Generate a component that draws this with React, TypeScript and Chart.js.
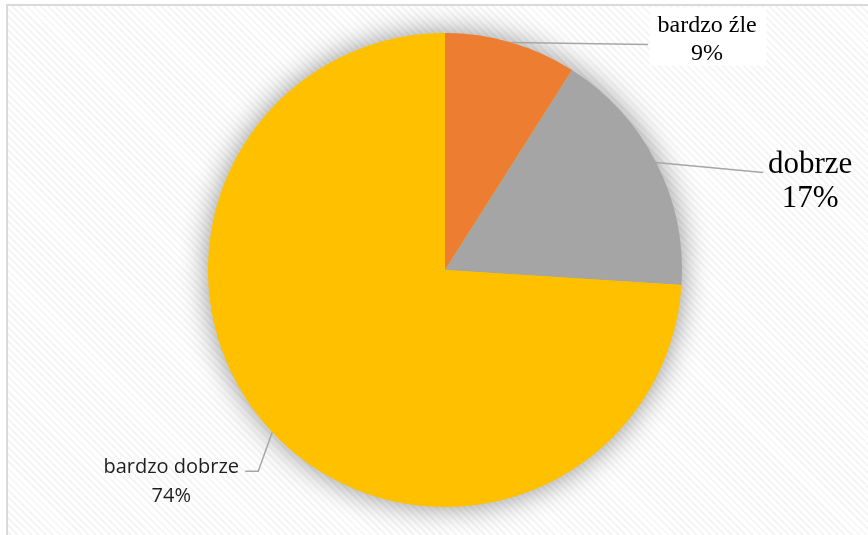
import React, { useEffect, useRef } from "react";
import { Chart, registerables } from "chart.js";

Chart.register(...registerables);

const categories = ["bardzo źle", "dobrze", "bardzo dobrze"];
const values = [9, 17, 74];
const colors = ["#ED7D31", "#A5A5A5", "#FFC000"];

// label styling / leader-line offsets (relative to arc mid-point on the rim)
const labelStyles = [
  { font: '24px "Liberation Serif"', color: "#000", path: [[137, 2]], textDx: 196, lineDy: [-10, 18], box: [139, -35, 116, 58] },
  { font: '31px "Liberation Serif"', color: "#000", path: [[107, 10]], textDx: 154, lineDy: [11, 45], box: null },
  { font: '20px "Open Sans"', color: "#1e1e1e", path: [[-14, 39], [-27, 39]], textDx: -101, lineDy: [41, 70], box: null },
];

const shadowPlugin = {
  id: "pieShadow",
  beforeDatasetsDraw(chart: any) {
    const meta = chart.getDatasetMeta(0);
    const a = meta.data[0];
    if (!a) return;
    const { x, y, outerRadius } = a.getProps(["x", "y", "outerRadius"], true);
    const ctx = chart.ctx;
    ctx.save();
    ctx.shadowColor = "rgba(0,0,0,0.45)";
    ctx.shadowBlur = 30;
    ctx.fillStyle = "#FFC000";
    ctx.beginPath();
    ctx.arc(x, y, outerRadius - 1, 0, Math.PI * 2);
    ctx.fill();
    ctx.restore();
  },
};

const labelPlugin = {
  id: "pieLabels",
  afterDatasetsDraw(chart: any) {
    const meta = chart.getDatasetMeta(0);
    const ctx = chart.ctx;
    const data = chart.data.datasets[0].data as number[];
    const total = data.reduce((s, v) => s + v, 0);
    meta.data.forEach((arc: any, i: number) => {
      const st = labelStyles[i];
      const { x, y, startAngle, endAngle, outerRadius } = arc.getProps(
        ["x", "y", "startAngle", "endAngle", "outerRadius"],
        true
      );
      const mid = (startAngle + endAngle) / 2;
      const sx = x + outerRadius * Math.cos(mid);
      const sy = y + outerRadius * Math.sin(mid);
      ctx.save();
      if (st.box) {
        ctx.fillStyle = "#ffffff";
        ctx.fillRect(sx + st.box[0], sy + st.box[1], st.box[2], st.box[3]);
      }
      ctx.strokeStyle = "#A6A6A6";
      ctx.lineWidth = 1.5;
      ctx.beginPath();
      ctx.moveTo(sx, sy);
      st.path.forEach((p) => ctx.lineTo(sx + p[0], sy + p[1]));
      ctx.stroke();
      ctx.fillStyle = st.color;
      ctx.font = st.font;
      ctx.textAlign = "center";
      ctx.textBaseline = "alphabetic";
      const pct = Math.round((data[i] / total) * 100) + "%";
      ctx.fillText(categories[i], sx + st.textDx, sy + st.lineDy[0]);
      ctx.fillText(pct, sx + st.textDx, sy + st.lineDy[1]);
      ctx.restore();
    });
  },
};

export default function App() {
  const ref = useRef<HTMLCanvasElement>(null);
  useEffect(() => {
    if (!ref.current) return;
    const chart = new Chart(ref.current, {
      type: "pie",
      data: {
        labels: categories,
        datasets: [
          {
            data: values,
            backgroundColor: colors,
            borderWidth: 0,
          },
        ],
      },
      options: {
        responsive: false,
        animation: false,
        devicePixelRatio: 1,
        layout: { padding: { top: 33, bottom: 28, left: 150, right: 128 } },
        plugins: { legend: { display: false }, tooltip: { enabled: false } },
      },
      plugins: [shadowPlugin, labelPlugin],
    });
    return () => chart.destroy();
  }, []);
  return (
    <div style={{ position: "fixed", left: 0, top: 0, width: 868, height: 535, overflow: "hidden", background: "#fff" }}>
      <div
        style={{
          position: "absolute",
          left: 6,
          top: 4,
          width: 880,
          height: 560,
          borderLeft: "2px solid #D9D9D9",
          borderTop: "2px solid #D9D9D9",
          background:
            "repeating-linear-gradient(45deg, #ffffff 0px, #ffffff 3px, #f5f5f5 3px, #f5f5f5 5px)",
        }}
      />
      <canvas ref={ref} width={868} height={535} style={{ position: "absolute", left: 0, top: 0 }} />
    </div>
  );
}
